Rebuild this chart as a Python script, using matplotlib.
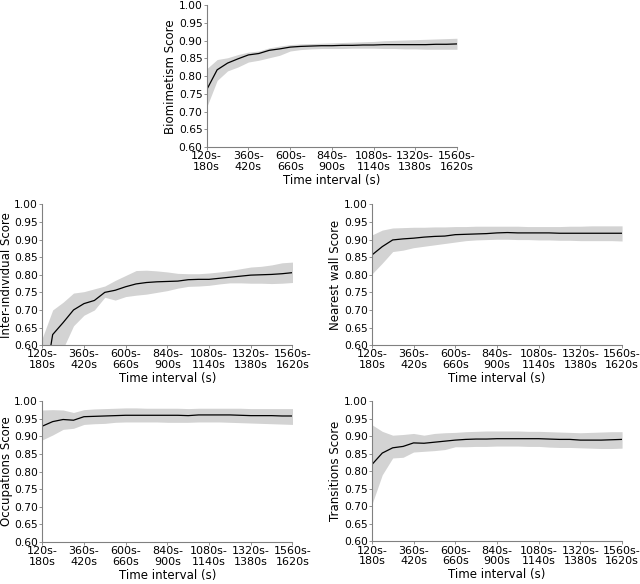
import matplotlib
matplotlib.use("Agg")
import matplotlib.pyplot as plt
import numpy as np

# interval start times (s), one point per 60 s
starts = list(range(120, 1561, 60))
tick_starts = [120, 360, 600, 840, 1080, 1320, 1560]
tick_labels = [f"{s}s-\n{s + 60}s" for s in tick_starts]

bio_mean = [0.762, 0.818, 0.837, 0.849, 0.860, 0.864, 0.873, 0.877, 0.882, 0.884,
            0.885, 0.886, 0.886, 0.887, 0.887, 0.888, 0.888, 0.889, 0.889, 0.889,
            0.889, 0.889, 0.890, 0.890, 0.891]
bio_hi = [0.821, 0.847, 0.852, 0.861, 0.868, 0.871, 0.880, 0.885, 0.889, 0.891,
          0.892, 0.893, 0.894, 0.895, 0.896, 0.897, 0.898, 0.900, 0.901, 0.902,
          0.903, 0.904, 0.905, 0.906, 0.907]
bio_lo = [0.713, 0.788, 0.815, 0.826, 0.840, 0.845, 0.852, 0.859, 0.871, 0.875,
          0.877, 0.878, 0.878, 0.878, 0.879, 0.879, 0.879, 0.878, 0.878, 0.877,
          0.877, 0.876, 0.876, 0.876, 0.876]

inter_mean = [0.45, 0.630, 0.664, 0.700, 0.718, 0.727, 0.750, 0.756, 0.766, 0.774,
              0.778, 0.780, 0.781, 0.782, 0.786, 0.787, 0.787, 0.790, 0.793, 0.796,
              0.799, 0.800, 0.801, 0.803, 0.806]
inter_hi = [0.62, 0.700, 0.722, 0.748, 0.752, 0.760, 0.768, 0.784, 0.798, 0.812,
            0.813, 0.811, 0.808, 0.804, 0.803, 0.803, 0.805, 0.808, 0.812, 0.817,
            0.822, 0.824, 0.828, 0.834, 0.836]
inter_lo = [0.35, 0.53, 0.590, 0.655, 0.685, 0.700, 0.736, 0.728, 0.738, 0.742,
            0.745, 0.750, 0.755, 0.762, 0.767, 0.768, 0.770, 0.774, 0.777, 0.777,
            0.776, 0.776, 0.775, 0.776, 0.778]

wall_mean = [0.856, 0.880, 0.899, 0.902, 0.904, 0.907, 0.909, 0.910, 0.914, 0.915,
             0.916, 0.917, 0.919, 0.920, 0.919, 0.919, 0.919, 0.919, 0.918, 0.918,
             0.918, 0.918, 0.918, 0.918, 0.918]
wall_hi = [0.913, 0.927, 0.933, 0.934, 0.935, 0.935, 0.936, 0.936, 0.937, 0.937,
           0.938, 0.938, 0.938, 0.938, 0.938, 0.937, 0.937, 0.937, 0.937, 0.938,
           0.938, 0.939, 0.939, 0.939, 0.939]
wall_lo = [0.802, 0.833, 0.866, 0.870, 0.877, 0.881, 0.885, 0.889, 0.893, 0.897,
           0.899, 0.900, 0.901, 0.901, 0.900, 0.900, 0.899, 0.899, 0.898, 0.898,
           0.897, 0.897, 0.897, 0.897, 0.896]

occ_mean = [0.929, 0.942, 0.948, 0.946, 0.956, 0.957, 0.958, 0.959, 0.960, 0.960,
            0.960, 0.960, 0.960, 0.960, 0.959, 0.961, 0.961, 0.961, 0.961, 0.960,
            0.959, 0.959, 0.959, 0.958, 0.958]
occ_hi = [0.975, 0.976, 0.975, 0.968, 0.976, 0.978, 0.979, 0.980, 0.981, 0.981,
          0.980, 0.980, 0.980, 0.980, 0.979, 0.980, 0.980, 0.980, 0.980, 0.980,
          0.979, 0.979, 0.979, 0.979, 0.979]
occ_lo = [0.890, 0.904, 0.920, 0.923, 0.934, 0.936, 0.937, 0.940, 0.941, 0.941,
          0.941, 0.941, 0.940, 0.940, 0.940, 0.941, 0.941, 0.941, 0.940, 0.939,
          0.938, 0.937, 0.936, 0.935, 0.934]

trans_mean = [0.819, 0.852, 0.867, 0.871, 0.881, 0.880, 0.883, 0.886, 0.889, 0.891,
              0.892, 0.892, 0.893, 0.893, 0.893, 0.893, 0.893, 0.892, 0.891, 0.891,
              0.889, 0.889, 0.889, 0.890, 0.891]
trans_hi = [0.933, 0.914, 0.903, 0.905, 0.908, 0.903, 0.908, 0.910, 0.911, 0.913,
            0.914, 0.915, 0.915, 0.915, 0.915, 0.914, 0.914, 0.913, 0.912, 0.911,
            0.910, 0.911, 0.912, 0.913, 0.913]
trans_lo = [0.705, 0.790, 0.838, 0.840, 0.855, 0.857, 0.859, 0.862, 0.870, 0.870,
            0.871, 0.871, 0.872, 0.872, 0.872, 0.871, 0.871, 0.869, 0.868, 0.868,
            0.867, 0.866, 0.865, 0.865, 0.866]

panels = [
    ("Biomimetism Score", bio_mean, bio_lo, bio_hi, [0.323, 0.748, 0.391, 0.243]),
    ("Inter-individual Score", inter_mean, inter_lo, inter_hi, [0.066, 0.409, 0.391, 0.241]),
    ("Nearest wall Score", wall_mean, wall_lo, wall_hi, [0.581, 0.409, 0.391, 0.241]),
    ("Occupations Score", occ_mean, occ_lo, occ_hi, [0.066, 0.072, 0.391, 0.241]),
    ("Transitions Score", trans_mean, trans_lo, trans_hi, [0.581, 0.073, 0.391, 0.240]),
]

LABEL_FS = 8.5
XTICK_FS = 8.0
YTICK_FS = 7.7

fig = plt.figure(figsize=(6.4, 5.84), dpi=100)
for ylabel, mean, lo, hi, rect in panels:
    ax = fig.add_axes(rect)
    ax.fill_between(starts, lo, hi, color="#d3d3d3", lw=0)
    ax.plot(starts, mean, color="black", lw=0.9)
    ax.set_xlim(starts[0], starts[-1])
    ax.set_ylim(0.6, 1.0)
    yt = np.arange(0.60, 1.001, 0.05)
    ax.set_yticks(yt)
    ax.set_yticklabels([f"{v:.2f}" for v in yt], fontsize=YTICK_FS)
    ax.set_xticks(tick_starts)
    ax.set_xticklabels(tick_labels, fontsize=XTICK_FS, linespacing=1.1)
    ax.tick_params(length=2, width=0.6, color="#808080", pad=1)
    ax.set_xlabel("Time interval (s)", fontsize=LABEL_FS, labelpad=1.5)
    ax.set_ylabel(ylabel, fontsize=LABEL_FS, labelpad=1)
    for side in ("top", "right"):
        ax.spines[side].set_visible(False)
    for side in ("left", "bottom"):
        ax.spines[side].set_color("#808080")
        ax.spines[side].set_linewidth(0.8)

fig.savefig("out.png", dpi=100)
